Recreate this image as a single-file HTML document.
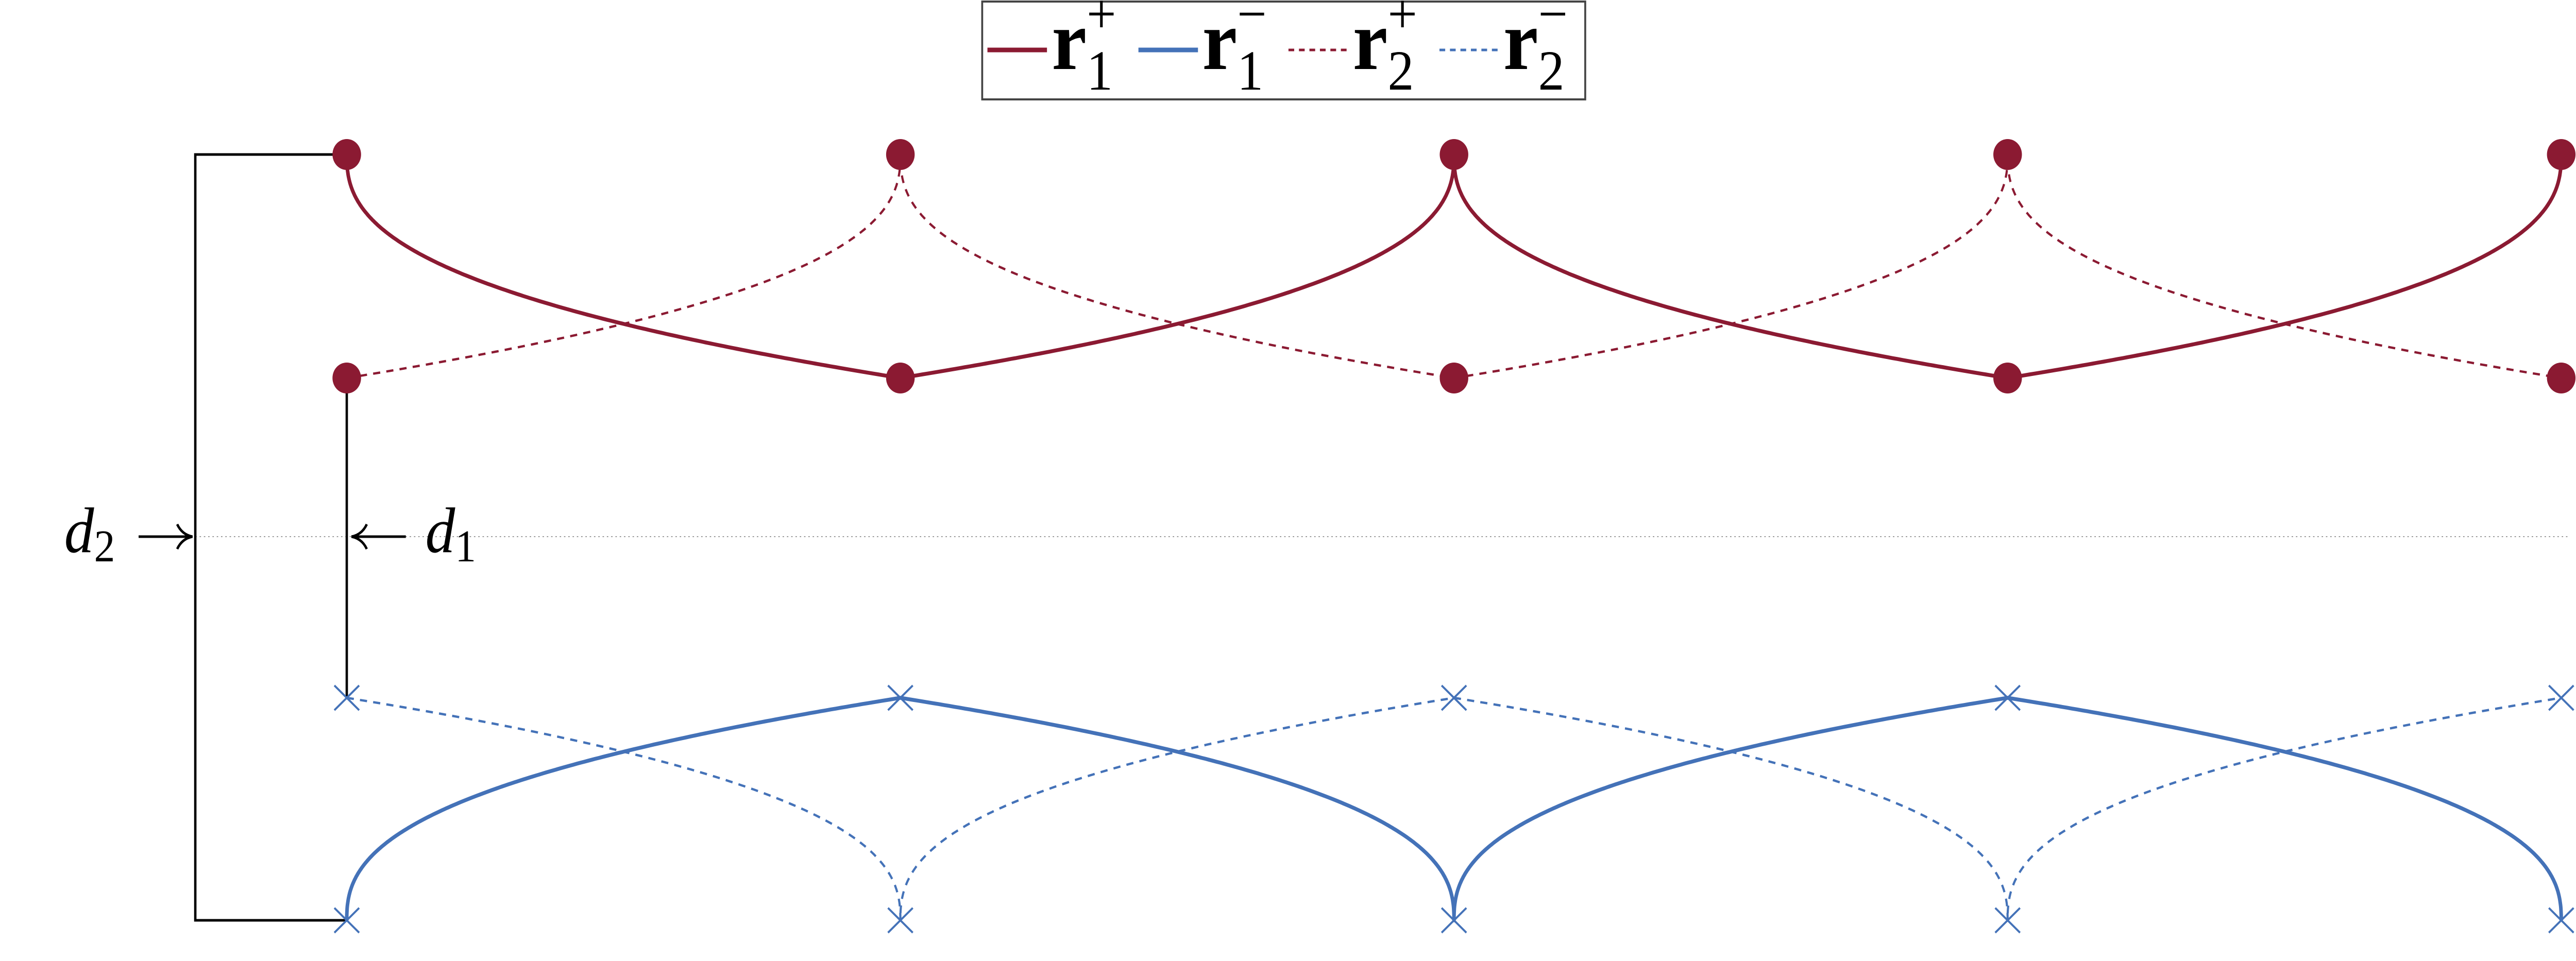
<!DOCTYPE html>
<html><head><meta charset="utf-8"><style>
html,body{margin:0;padding:0;background:#fff;width:100vw;height:100vh;overflow:hidden;}
#chart{display:block;position:fixed;left:0;top:0;width:100vw;height:100vh;}
text{font-family:"Liberation Serif",serif;}
</style></head><body>
<svg id="chart" viewBox="0 0 5408 1866" preserveAspectRatio="none" xmlns="http://www.w3.org/2000/svg">
<line x1="410" y1="1042" x2="5390" y2="1042" stroke="#999" stroke-width="2" stroke-dasharray="3,6"/>
<g stroke="#000" stroke-width="5" fill="none">
<polyline points="728,300 410,300 410,1787 728,1787"/>
</g>
<line x1="728" y1="734" x2="728" y2="1355" stroke="#000" stroke-width="5"/>
<g stroke="#000" stroke-width="5" fill="none">
<line x1="291" y1="1042" x2="402" y2="1042"/>
<path d="M372,1018 Q382,1038 404,1042 Q382,1046 372,1066"/>
</g>
<text x="135" y="1072" font-size="125" font-style="italic">d<tspan font-size="88" dy="18" font-style="normal">2</tspan></text>
<g stroke="#000" stroke-width="5" fill="none">
<line x1="740" y1="1042" x2="852" y2="1042"/>
<path d="M770,1018 Q760,1038 738,1042 Q760,1046 770,1066"/>
</g>
<text x="893" y="1072" font-size="125" font-style="italic">d<tspan font-size="88" dy="18" font-style="normal">1</tspan></text>
<g id="series"></g>
<g id="markers"></g>
<g>
<rect x="2062" y="3" width="1266" height="190" fill="#fff" stroke="#444" stroke-width="4"/>
<line x1="2073" y1="97" x2="2198" y2="97" stroke="#8b1a32" stroke-width="9"/>
<text x="2208" y="134" font-size="165" font-weight="bold">r<tspan font-size="110" font-weight="normal" dy="40">1</tspan><tspan font-size="110" font-weight="normal" dx="-55" dy="-110">+</tspan></text>
<line x1="2390" y1="97" x2="2515" y2="97" stroke="#4472b8" stroke-width="9"/>
<text x="2524" y="134" font-size="165" font-weight="bold">r<tspan font-size="110" font-weight="normal" dy="40">1</tspan><tspan font-size="110" font-weight="normal" dx="-55" dy="-110">−</tspan></text>
<line x1="2705" y1="97" x2="2830" y2="97" stroke="#8b1a32" stroke-width="5" stroke-dasharray="12,10"/>
<text x="2840" y="134" font-size="165" font-weight="bold">r<tspan font-size="110" font-weight="normal" dy="40">2</tspan><tspan font-size="110" font-weight="normal" dx="-55" dy="-110">+</tspan></text>
<line x1="3022" y1="97" x2="3147" y2="97" stroke="#4472b8" stroke-width="5" stroke-dasharray="12,10"/>
<text x="3156" y="134" font-size="165" font-weight="bold">r<tspan font-size="110" font-weight="normal" dy="40">2</tspan><tspan font-size="110" font-weight="normal" dx="-55" dy="-110">−</tspan></text>
</g>
</svg>
<script>
const nodes = [0, 1, 2, 3, 4];
const levels = [0, 1, 2, 3]; // 0 top red, 1 lower red, 2 upper blue, 3 lower blue
const r1plus = [0, 1, 0, 1, 0];
const r2plus = [1, 0, 1, 0, 1];
const r1minus = [3, 2, 3, 2, 3];
const r2minus = [2, 3, 2, 3, 2];
const r1plusCusp = 0, r2plusCusp = 0, r1minusCusp = 3, r2minusCusp = 3;

const NS = "http://www.w3.org/2000/svg";
function xScale(i){ return 728 + i * (5377 - 728) / 4; }
const levelY = [300, 734, 1355, 1787];
function yScale(l){ return levelY[l]; }

function buildPath(vals, cusp){
  let d = "";
  for (let i = 0; i < vals.length - 1; i++){
    const x0 = xScale(nodes[i]), x1 = xScale(nodes[i+1]);
    const y0 = yScale(vals[i]), y1 = yScale(vals[i+1]);
    const cuspAtStart = vals[i] === cusp;
    const N = 200;
    for (let k = 0; k <= N; k++){
      let t = Math.pow(k / N, 2);
      if (!cuspAtStart) t = 1 - Math.pow(1 - k / N, 2);
      let x, y;
      if (cuspAtStart){
        x = x0 + (x1 - x0) * t;
        y = y0 + (y1 - y0) * Math.pow(t, 0.4);
      } else {
        const s = 1 - t;
        x = x1 + (x0 - x1) * s;
        y = y1 + (y0 - y1) * Math.pow(s, 0.4);
      }
      d += (d === "" ? "M" : "L") + x.toFixed(1) + "," + y.toFixed(1);
    }
  }
  return d;
}

const series = document.getElementById("series");
function addSeries(vals, cusp, color, dashed, name){
  const p = document.createElementNS(NS, "path");
  p.setAttribute("d", buildPath(vals, cusp));
  p.setAttribute("fill", "none");
  p.setAttribute("stroke", color);
  p.setAttribute("stroke-width", dashed ? 4.5 : 7.5);
  p.setAttribute("stroke-linejoin", "round");
  if (dashed) p.setAttribute("stroke-dasharray", "15,13");
  
  
  series.appendChild(p);
}
addSeries(r2plus, r2plusCusp, "#8b1a32", true, "r2-plus-line");
addSeries(r2minus, r2minusCusp, "#4472b8", true, "r2-minus-line");
addSeries(r1plus, r1plusCusp, "#8b1a32", false, "r1-plus-line");
addSeries(r1minus, r1minusCusp, "#4472b8", false, "r1-minus-line");

const markers = document.getElementById("markers");
nodes.forEach(function(n){
  [0, 1].forEach(function(l){
    const c = document.createElementNS(NS, "circle");
    c.setAttribute("cx", xScale(n));
    c.setAttribute("cy", yScale(l));
    c.setAttribute("r", 30);
    c.setAttribute("fill", "#8b1a32");
    
    
    markers.appendChild(c);
  });
  [2, 3].forEach(function(l){
    const x = xScale(n), y = yScale(l);
    const p = document.createElementNS(NS, "path");
    p.setAttribute("d", "M" + (x-26) + "," + (y-24) + "L" + (x+26) + "," + (y+24) + "M" + (x-26) + "," + (y+24) + "L" + (x+26) + "," + (y-24));
    p.setAttribute("stroke", "#4472b8");
    p.setAttribute("stroke-width", 4);
    
    
    markers.appendChild(p);
  });
});
</script>
</body></html>
